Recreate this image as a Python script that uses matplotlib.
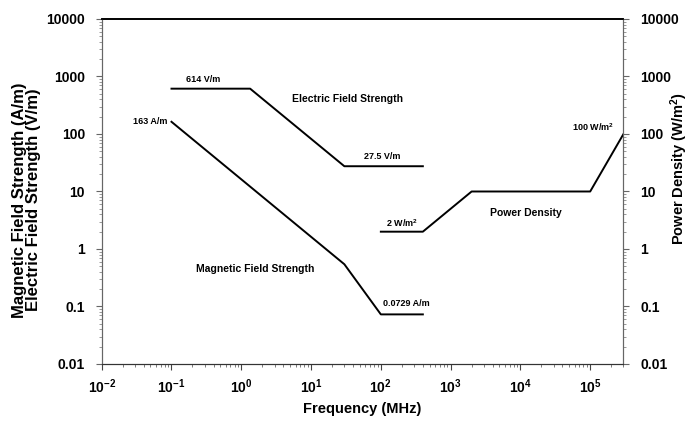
import matplotlib
matplotlib.use("Agg")
import matplotlib.pyplot as plt
from matplotlib.ticker import FixedLocator, FixedFormatter, LogLocator, NullFormatter

plt.rcParams['font.family'] = ['Liberation Sans', 'DejaVu Sans']
plt.rcParams['font.weight'] = 'bold'
plt.rcParams['mathtext.fontset'] = 'custom'
plt.rcParams['mathtext.rm'] = 'Liberation Sans:bold'
plt.rcParams['mathtext.default'] = 'rm'

# exposure limits
freq_e = [0.1, 1.34, 30, 400]
e_field = [614, 614, 27.5, 27.5]

freq_h = [0.1, 30, 100, 400]
h_field = [163, 0.543, 0.0729, 0.0729]

freq_p = [100, 400, 2000, 1e5, 3e5]
p_dens = [2, 2, 10, 10, 100]

x_ticks = [1e-2, 1e-1, 1e0, 1e1, 1e2, 1e3, 1e4, 1e5]
x_labels = ['$10^{-2}$', '$10^{-1}$', '$10^{0}$', '$10^{1}$',
            '$10^{2}$', '$10^{3}$', '$10^{4}$', '$10^{5}$']
y_ticks = [0.01, 0.1, 1, 10, 100, 1000, 10000]
y_labels = ['0.01', '0.1', '1', '10', '100', '1000', '10000']

fig = plt.figure(figsize=(6.9, 4.21), dpi=100)
ax = fig.add_axes([0.1474, 0.1354, 0.7562, 0.8195])
ax2 = ax.twinx()

lw = 1.4
ax.plot(freq_e, e_field, color='black', lw=lw)
ax.plot(freq_h, h_field, color='black', lw=lw)
ax2.plot(freq_p, p_dens, color='black', lw=lw)

for a in (ax, ax2):
    a.set_xscale('log')
    a.set_yscale('log')
    a.set_xlim(1e-2, 3e5)
    a.set_ylim(0.01, 10000)
    a.yaxis.set_major_locator(FixedLocator(y_ticks))
    a.yaxis.set_major_formatter(FixedFormatter(y_labels))
    a.yaxis.set_minor_locator(LogLocator(base=10, subs=range(2, 10), numticks=20))
    a.yaxis.set_minor_formatter(NullFormatter())
    a.tick_params(axis='y', which='major', length=4, width=0.8, color='#666666', labelsize=10, pad=8)
    a.tick_params(axis='y', which='minor', length=2.5, width=0.6, color='#888888')

ax.xaxis.set_major_locator(FixedLocator(x_ticks))
ax.xaxis.set_major_formatter(FixedFormatter(x_labels))
ax.xaxis.set_minor_locator(LogLocator(base=10, subs=range(2, 10), numticks=20))
ax.xaxis.set_minor_formatter(NullFormatter())
ax.tick_params(axis='x', which='major', length=4, width=0.8, color='#444444', labelsize=10, pad=6)
ax.tick_params(axis='x', which='minor', length=2.5, width=0.6, color='#666666')

for a in (ax, ax2):
    a.spines['top'].set_color('black')
    a.spines['top'].set_linewidth(1.2)
    a.spines['bottom'].set_color('#333333')
    a.spines['left'].set_color('#666666')
    a.spines['right'].set_color('#666666')

ax.set_xlabel('Frequency (MHz)', fontsize=10.5, fontweight='bold', labelpad=4)
fig.text(0.038, 0.525, 'Magnetic Field Strength (A/m)\nElectric Field Strength (V/m)',
         rotation=90, ha='center', va='center', fontsize=12, fontweight='bold',
         linespacing=0.95)
fig.text(0.984, 0.6, 'Power Density (W/m$^{2}$)', rotation=90, ha='center', va='center',
         fontsize=10.5, fontweight='bold')

small = dict(fontsize=6.5, fontweight='bold', ha='center', va='center')
mid = dict(fontsize=7.5, fontweight='bold', ha='center', va='center')

ax.text(0.28, 900, '614 V/m', **small)
ax.text(33, 406, 'Electric Field Strength', **mid)
ax.text(104, 41, '27.5 V/m', **small)
ax.text(0.086, 163, '163 A/m', fontsize=6.5, fontweight='bold', ha='right', va='center')
ax.text(1.6, 0.45, 'Magnetic Field Strength', **mid)
ax.text(230, 0.115, '0.0729 A/m', **small)
ax2.text(200, 2.8, '2 W/m$^{2}$', **small)
ax2.text(11900, 4.3, 'Power Density', **mid)
ax2.text(1.11e5, 132, '100 W/m$^{2}$', **small)

fig.savefig('out.png', dpi=100, facecolor='white')
